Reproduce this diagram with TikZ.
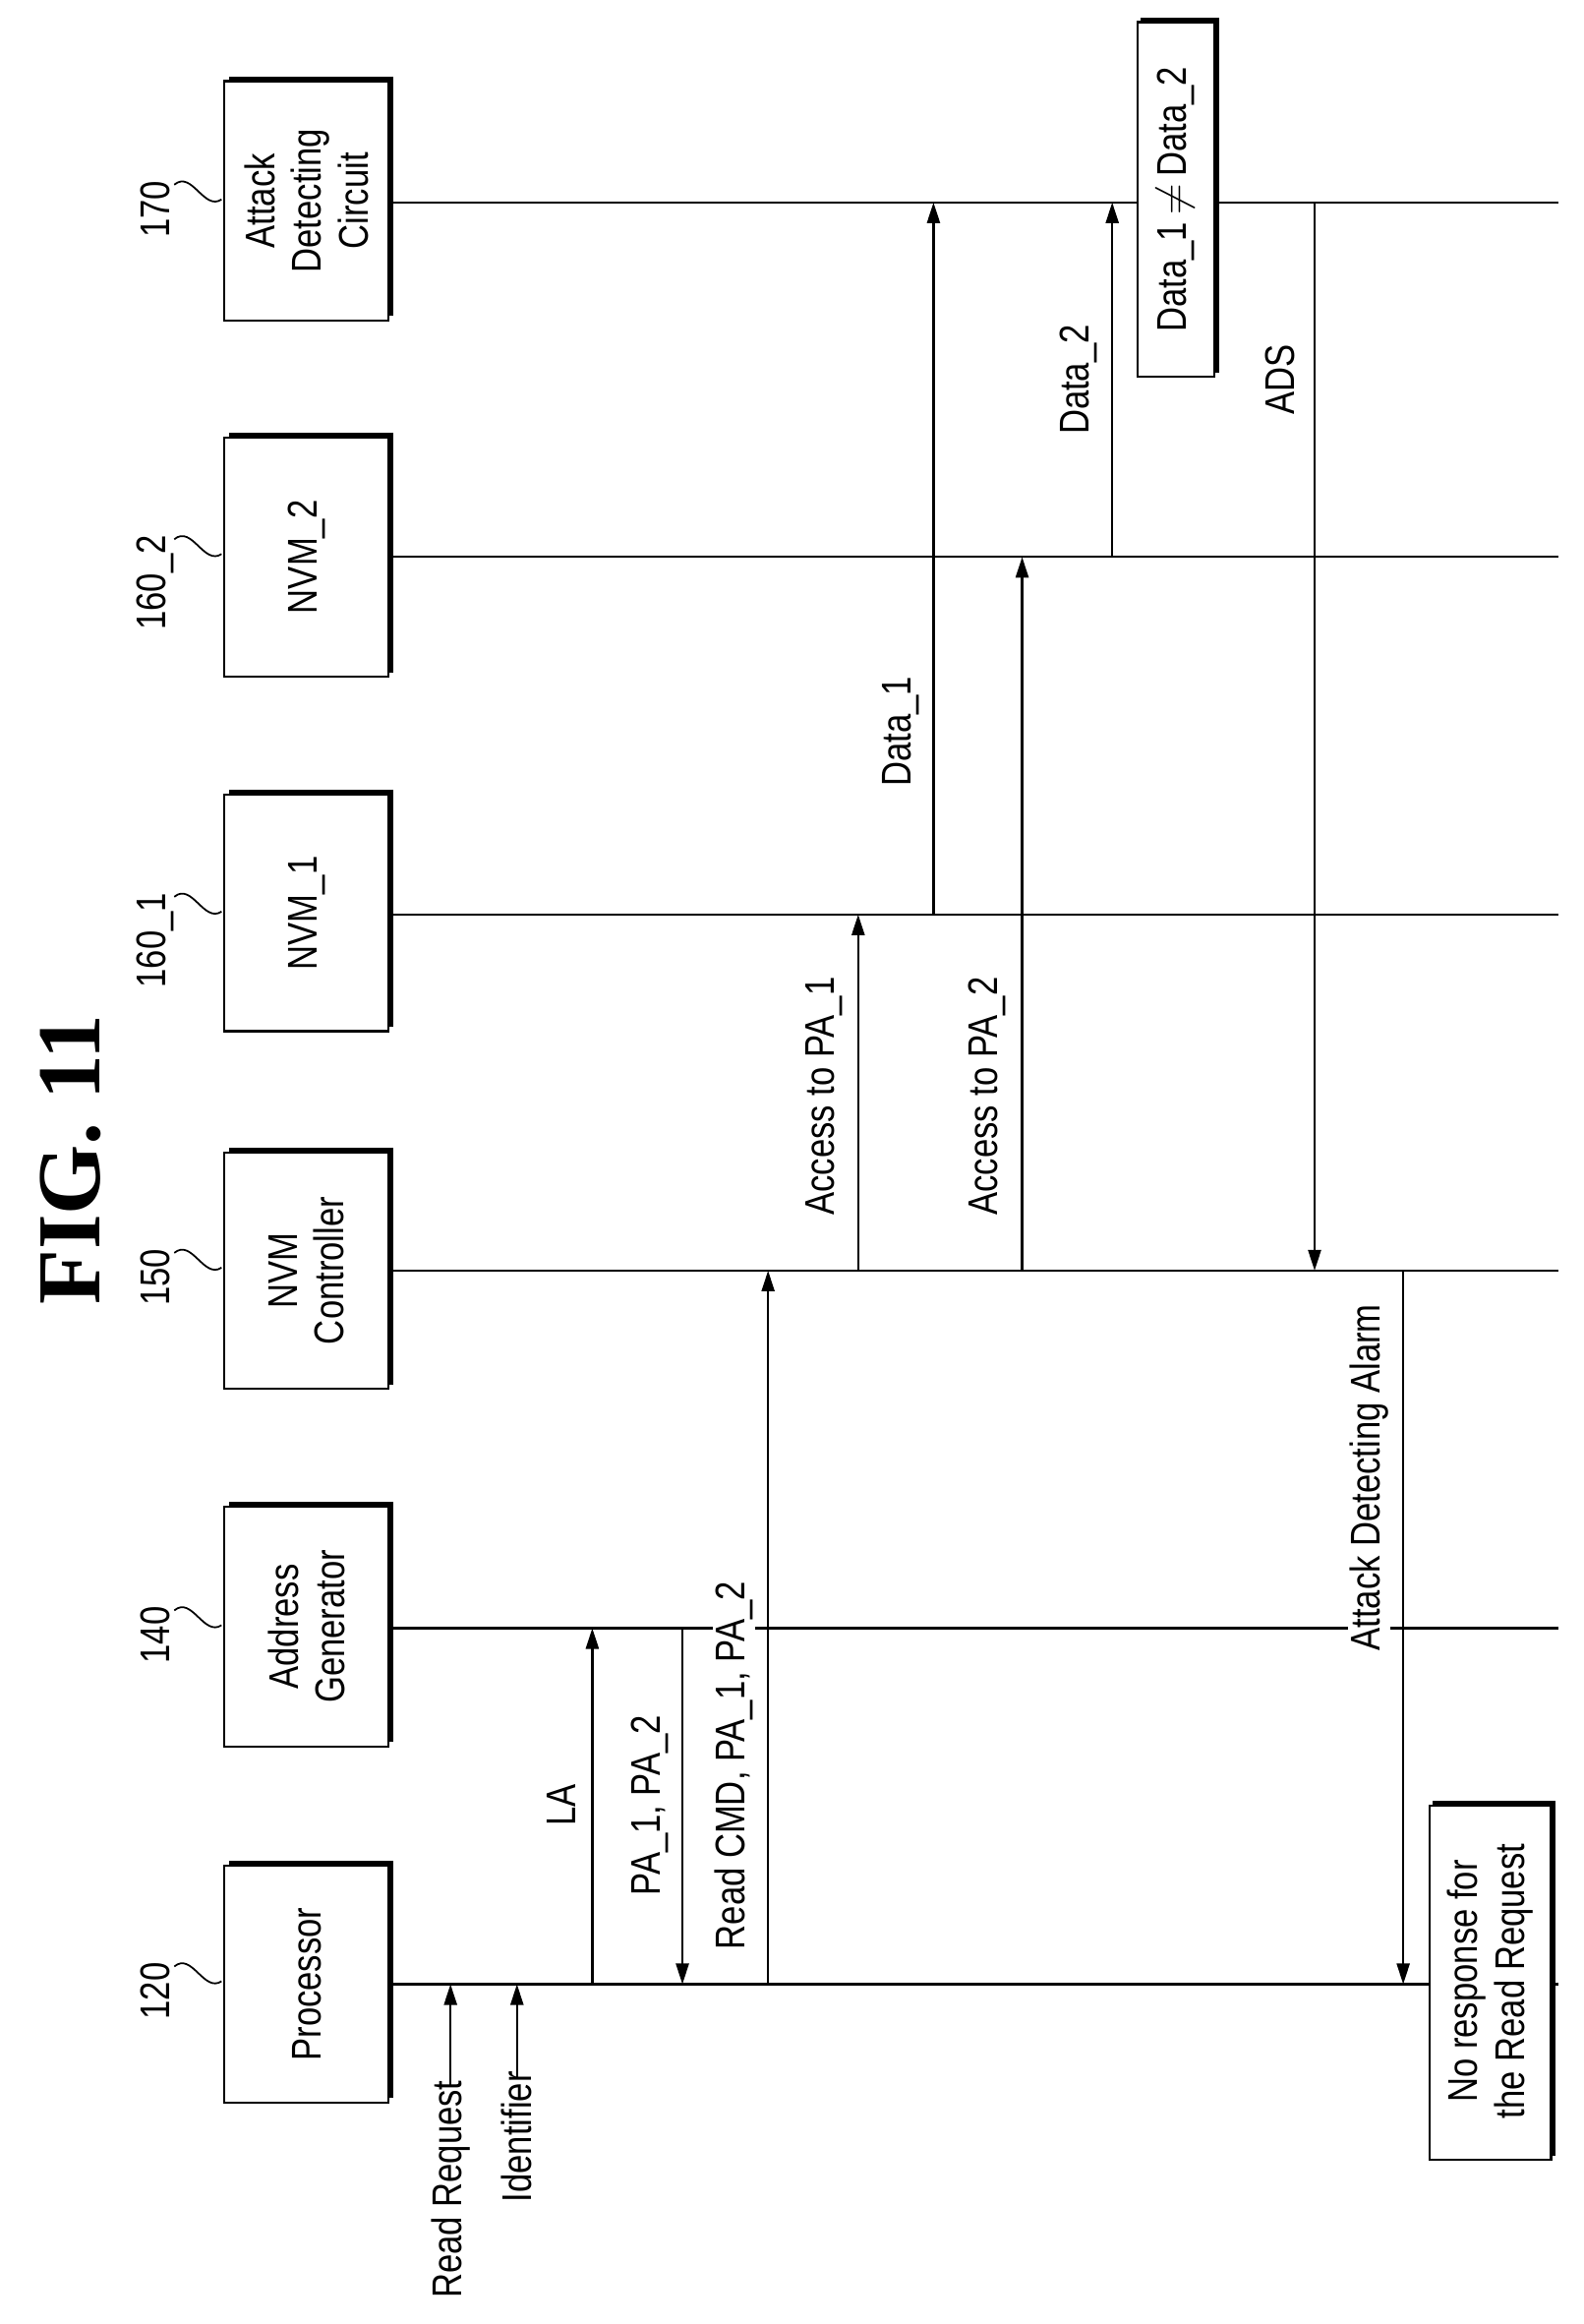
\documentclass[tikz,border=0pt]{standalone}
\usepackage{fontspec}
\setmainfont{Liberation Sans}[FakeStretch=0.82]
\newfontfamily\titlefont{Liberation Serif}
\usetikzlibrary{arrows.meta}
\begin{document}
\begin{tikzpicture}[x=0.03cm,y=-0.03cm,
  txt/.style={rotate=90,font=\fontsize{24}{27}\selectfont,align=center,inner sep=1pt},
  life/.style={line width=1.3pt},
  msg/.style={line width=1.3pt,-{Triangle[length=0.42cm,width=0.26cm]}},
  lbl/.style={txt,fill=white}]
\useasboundingbox (0,0) rectangle (1072,1573);
\node[rotate=90,font=\titlefont\bfseries\fontsize{52}{56}\selectfont] (title) at (48,785) {FIG. 11};
% boxes and lifelines
\foreach \n/\m/\y/\a/\b/\t in {a/170/137/55/217/{Attack\\Detecting\\Circuit},b/160\_2/377/296/458/{NVM\_2},c/160\_1/619/538/698/{NVM\_1},d/150/860/780/940/{NVM\\Controller},e/140/1102/1020/1182/{Address\\Generator},f/120/1343/1263/1423/{Processor}}{
  \draw[line width=1.3pt] (152,\a) rectangle (263,\b);
  \draw[line width=2.2pt] (155,\a-2) -- (265,\a-2) -- (265,\b-3);
  \node[txt,anchor=east] (n\n) at (105,\y-16) {\m};
  \draw[line width=1pt] (118,\y-12) .. controls (130,\y-22) and (138,\y+6) .. (150,\y-2);
  \node[txt] (b\n) at (207.5,{(\a+\b)/2}) {\t};
  \coordinate (s\n) at (263,\y);
  \coordinate (e\n) at (1055,\y);
  \draw[life] (s\n) -- (e\n);
}
% input arrows
\node[txt,anchor=west] (rr) at (305,1557) {Read Request};
\node[txt,anchor=west] (id) at (350,1492) {Identifier};
\coordinate (rrt) at (305,1343); \coordinate (idt) at (350,1343);
\draw[msg] ([yshift=-0.15cm]rr.east) -- (rrt);
\draw[msg] ([yshift=-0.15cm]id.east) -- (idt);
% messages
\coordinate (la1) at (401,1343); \coordinate (la2) at (401,1102);
\draw[msg] (la1) -- (la2);
\node[txt] (lla) at (380,1222) {LA};
\coordinate (pa1) at (462,1102); \coordinate (pa2) at (462,1343);
\draw[msg] (pa1) -- (pa2);
\node[txt] (lpa) at (440,1222) {PA\_1, PA\_2};
\coordinate (rc1) at (520,1343); \coordinate (rc2) at (520,860);
\draw[msg] (rc1) -- (rc2);
\node[lbl] (lrc) at (497,1195) {Read CMD, PA\_1, PA\_2};
\coordinate (ap1) at (581,860); \coordinate (ap2) at (581,619);
\draw[msg] (ap1) -- (ap2);
\node[txt] (lap1) at (558,742) {Access to PA\_1};
\coordinate (aq1) at (692,860); \coordinate (aq2) at (692,377);
\draw[msg] (aq1) -- (aq2);
\node[txt] (lap2) at (668,742) {Access to PA\_2};
\coordinate (d11) at (632,619); \coordinate (d12) at (632,137);
\draw[msg] (d11) -- (d12);
\node[txt] (ld1) at (610,495) {Data\_1};
\coordinate (d21) at (753,377); \coordinate (d22) at (753,137);
\draw[msg] (d21) -- (d22);
\node[txt] (ld2) at (730,257) {Data\_2};
\draw[line width=1.3pt,fill=white] (770,15) rectangle (822,255);
\draw[line width=2.2pt] (772,13) -- (824,13) -- (824,252);
\node[txt] (cmp) at (796,135) {Data\_1$\,\neq\,$Data\_2};
\coordinate (ad1) at (890,137); \coordinate (ad2) at (890,860);
\draw[msg] (ad1) -- (ad2);
\node[txt] (lads) at (867,257) {ADS};
\coordinate (al1) at (950,860); \coordinate (al2) at (950,1343);
\draw[msg] (al1) -- (al2);
\node[lbl] (lal) at (927,1000) {Attack Detecting Alarm};
\draw[line width=1.3pt,fill=white] (968,1222) rectangle (1050,1462);
\draw[line width=2.2pt] (970,1220) -- (1052,1220) -- (1052,1459);
\node[txt] (nr) at (1009,1341) {No response for\\the Read Request};
\end{tikzpicture}
\end{document}
